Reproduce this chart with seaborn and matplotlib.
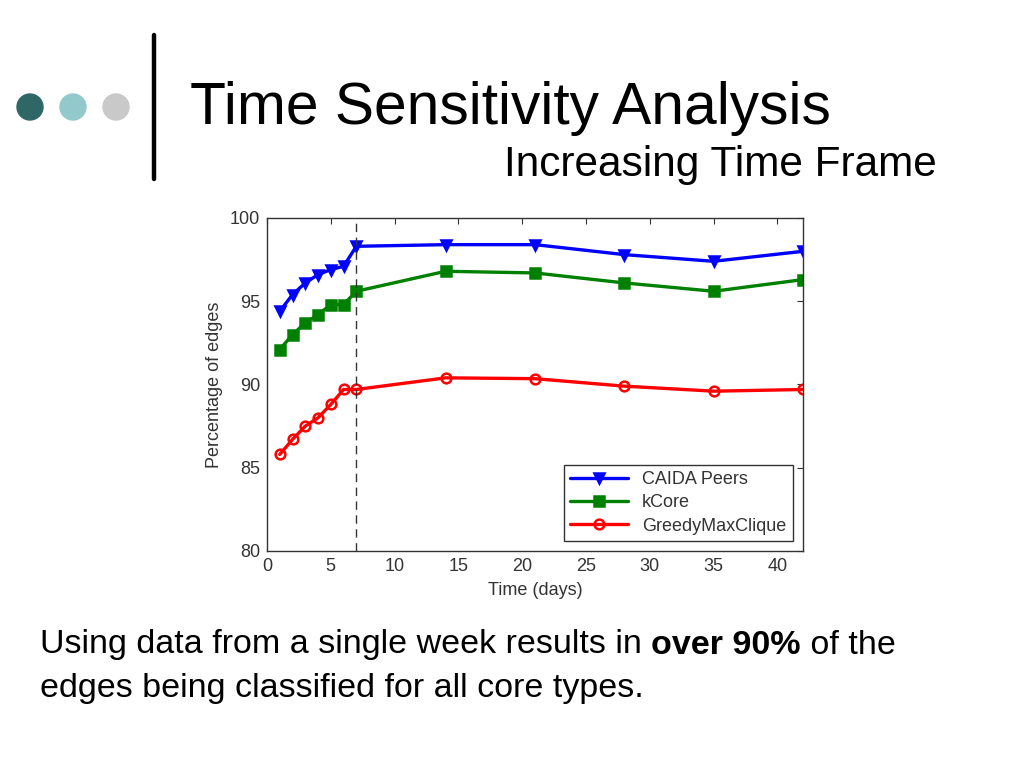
import pandas as pd
import matplotlib
matplotlib.use('Agg')
import matplotlib.pyplot as plt
import seaborn as sns

# data
days = [1, 2, 3, 4, 5, 6, 7, 14, 21, 28, 35, 42]
caida = [94.4, 95.4, 96.1, 96.6, 96.9, 97.1, 98.3, 98.4, 98.4, 97.8, 97.4, 98.0]
kcore = [92.1, 93.0, 93.7, 94.2, 94.8, 94.8, 95.6, 96.8, 96.7, 96.1, 95.6, 96.3]
greedy = [85.8, 86.7, 87.5, 88.0, 88.8, 89.7, 89.7, 90.4, 90.35, 89.9, 89.6, 89.7]
series_names = ['CAIDA Peers', 'kCore', 'GreedyMaxClique']
xticks = [0, 5, 10, 15, 20, 25, 30, 35, 40]
yticks = [80, 85, 90, 95, 100]

sns.set_style('white')
plt.rcParams['font.family'] = ['Liberation Sans', 'DejaVu Sans']
plt.rcParams['text.color'] = 'black'

df = pd.DataFrame({
    'days': days * 3,
    'value': caida + kcore + greedy,
    'series': [n for n in series_names for _ in days],
})

fig = plt.figure(figsize=(10.24, 7.68), dpi=100)
fig.patch.set_facecolor('white')

# slide decoration: dots and vertical bar
deco = fig.add_axes([0, 0, 1, 1])
deco.set_xlim(0, 1024)
deco.set_ylim(768, 0)
deco.axis('off')
for cx, col in zip([30, 73, 116], ['#2f6766', '#93c9cb', '#c9c9c9']):
    deco.add_patch(plt.Circle((cx, 107), 13, color=col))
deco.plot([154, 154], [35, 179], color='black', lw=3.2)

fig.text(190 / 1024, 1 - 108 / 768, 'Time Sensitivity Analysis', fontsize=42.3,
         va='center', ha='left', color='black')
fig.text(937 / 1024, 1 - 165 / 768, 'Increasing Time Frame', fontsize=30.5,
         va='center', ha='right', color='black')

ax = fig.add_axes([267 / 1024, 1 - 551 / 768, (803 - 267) / 1024, (551 - 218) / 768])
styles = {
    'CAIDA Peers': dict(color='#0000ff', marker='v', markerfacecolor='#0000ff'),
    'kCore': dict(color='#008000', marker='s', markerfacecolor='#008000'),
    'GreedyMaxClique': dict(color='#ff0000', marker='o', markerfacecolor='none'),
}
for name in series_names:
    st = styles[name]
    sns.lineplot(data=df[df['series'] == name], x='days', y='value', ax=ax,
                 color=st['color'], marker=st['marker'], markersize=7,
                 markerfacecolor=st['markerfacecolor'], markeredgecolor=st['color'],
                 markeredgewidth=1.8, linewidth=2.4, label=name)
ax.axvline(7, color='#333333', linestyle=(0, (6, 4)), linewidth=1)
ax.set_xlim(0, 42)
ax.set_ylim(80, 100)
ax.set_xticks(xticks)
ax.set_yticks(yticks)
ax.tick_params(direction='in', top=True, right=True, length=4, labelsize=13,
               colors='#333333', labelcolor='#333333', pad=5)
for sp in ax.spines.values():
    sp.set_color('#333333')
    sp.set_linewidth(1)
ax.set_xlabel('Time (days)', fontsize=13, color='#333333', labelpad=5)
ax.set_ylabel('Percentage of edges', fontsize=13, color='#333333', labelpad=5)
leg = ax.legend(loc='lower right', fontsize=13, frameon=True, fancybox=False,
                borderpad=0.35, handlelength=3.2, labelspacing=0.35,
                borderaxespad=0, bbox_to_anchor=(0.981, 0.030))
leg.get_frame().set_edgecolor('black')
leg.get_frame().set_linewidth(1)
for t in leg.get_texts():
    t.set_color('#333333')

# bottom caption with a bold part
renderer = fig.canvas.get_renderer()
x0 = 40 / 1024
y1 = 1 - 645 / 768
parts = [('Using data from a single week results in ', 'normal'),
         ('over 90%', 'bold'), (' of the', 'normal')]
x = x0
for txt, w in parts:
    t = fig.text(x, y1, txt, fontsize=24.5, fontweight=w, va='center', ha='left',
                 color='black')
    bb = t.get_window_extent(renderer=renderer)
    x = bb.x1 / fig.bbox.width
fig.text(x0, 1 - 688 / 768, 'edges being classified for all core types.',
         fontsize=24.5, va='center', ha='left', color='black')

fig.savefig('out.png', dpi=100)
